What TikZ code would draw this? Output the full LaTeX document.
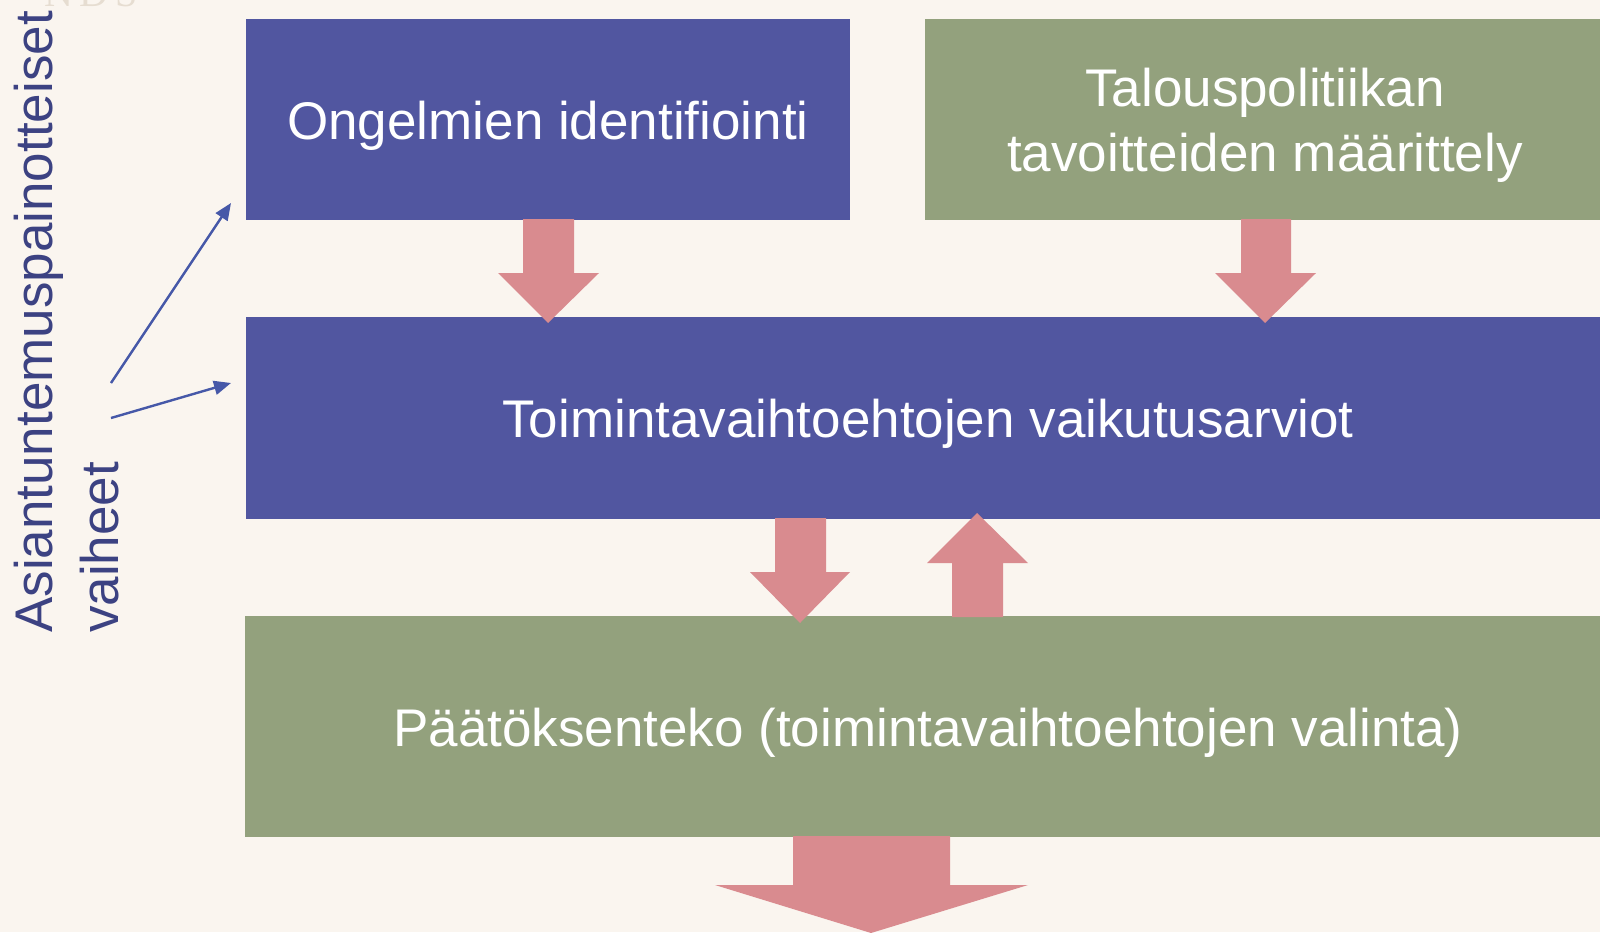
\documentclass[tikz,border=0pt]{standalone}
\usepackage{fontspec}
\setmainfont{Liberation Sans}
\newfontfamily\faintserif{Liberation Serif}
\usetikzlibrary{arrows.meta}
\definecolor{bgc}{HTML}{FAF5EF}
\definecolor{boxblue}{HTML}{5156A0}
\definecolor{boxgreen}{HTML}{93A17D}
\definecolor{arrowpink}{HTML}{D98B8F}
\definecolor{sidetext}{HTML}{3C4282}
\definecolor{thinarrow}{HTML}{4658A8}
\definecolor{faint}{HTML}{E6DDD1}
\tikzset{
  x=1pt, y=-1pt,
  box/.style={anchor=north west, inner sep=0pt, outer sep=0pt},
  bluebox/.style={box, fill=boxblue},
  greenbox/.style={box, fill=boxgreen},
  boxtext/.style={inner sep=0pt, align=center, text=white, yshift=-6pt,
    font=\fontsize{53}{65}\selectfont},
  blockarrow/.style={fill=arrowpink, draw=none},
  sidelabel/.style={rotate=90, anchor=base west, inner sep=0pt, text=sidetext,
    font=\fontsize{53}{65}\selectfont},
  thin/.style={draw=thinarrow, line width=2.4pt, -{Triangle[length=17pt,width=14pt]}}
}
\begin{document}
\begin{tikzpicture}
\fill[bgc] (0,0) rectangle (1600,932);
\useasboundingbox (0,0) rectangle (1600,932);
\clip (0,0) rectangle (1600,932);
% faint background remnant
\node[anchor=base west, inner sep=0pt, text=faint, font=\faintserif\fontsize{40}{40}\selectfont] (faintnds) at (44,6) {N\,D\,S};
% boxes
\node[bluebox, minimum width=604pt, minimum height=201pt] (box1) at (246,19) {};
\node[greenbox, minimum width=680pt, minimum height=201pt] (box2) at (925,19) {};
\node[bluebox, minimum width=1364pt, minimum height=202pt] (box3) at (246,317) {};
\node[greenbox, minimum width=1366pt, minimum height=221pt] (box4) at (245,616) {};
\node[boxtext] (t1) at (box1.center) {Ongelmien identifiointi};
\node[boxtext] (t2) at (box2.center) {Talouspolitiikan\\tavoitteiden määrittely};
\node[boxtext] (t3) at (box3.center) {Toimintavaihtoehtojen vaikutusarviot};
\node[boxtext] (t4) at (box4.center) {Päätöksenteko (toimintavaihtoehtojen valinta)};
% side label
\node[sidelabel] (side1) at (52,633) {Asiantuntemuspainotteiset};
\node[sidelabel] (side2) at (118,633) {vaiheet};
% thin arrows
\coordinate (s1) at (111,383);
\coordinate (s2) at (111,418);
\coordinate (e1) at (231,203);
\coordinate (e2) at (231,383);
\draw[thin] (s1) -- (e1);
\draw[thin] (s2) -- (e2);
% block arrows
\fill[blockarrow] (523,219) -- (574,219) -- (574,273) -- (599,273) -- (548,323) -- (498,273) -- (523,273) -- cycle;
\fill[blockarrow] (1241,219) -- (1291,219) -- (1291,273) -- (1316,273) -- (1265,323) -- (1215,273) -- (1241,273) -- cycle;
\fill[blockarrow] (775,518) -- (826,518) -- (826,572) -- (850,572) -- (800,623) -- (750,572) -- (775,572) -- cycle;
\fill[blockarrow] (952,617) -- (1003,617) -- (1003,563) -- (1028,563) -- (977,513) -- (927,563) -- (952,563) -- cycle;
\fill[blockarrow] (793,836) -- (950,836) -- (950,885) -- (1028,885) -- (871,933) -- (715,885) -- (793,885) -- cycle;
\end{tikzpicture}
\end{document}
